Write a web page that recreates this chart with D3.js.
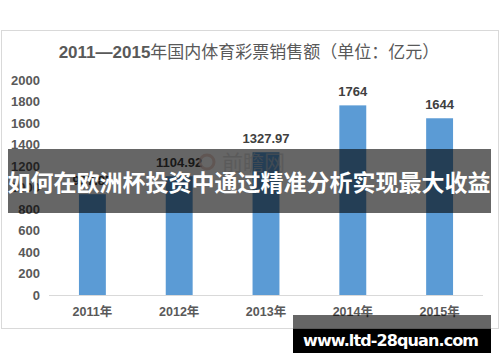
<!DOCTYPE html>
<html>
<head>
<meta charset="utf-8">
<script src="https://d3js.org/d3.v7.min.js"></script>
<style>
  body { margin: 0; background: #fff; }
  svg { display: block; }
</style>
</head>
<body>
<script>
  // 数据
  var years = ["2011年", "2012年", "2013年", "2014年", "2015年"];
  var sales = [937.85, 1104.92, 1327.97, 1764, 1644];
  var valueLabels = ["937.85", "1104.92", "1327.97", "1764", "1644"];
  var yTicks = [0, 200, 400, 600, 800, 1000, 1200, 1400, 1600, 1800, 2000];
  var titleBold = "2011—2015";
  var titleRest = "年国内体育彩票销售额（单位：亿元）";
  var bannerText = "如何在欧洲杯投资中通过精准分析实现最大收益";
  var siteText = "www.ltd-28quan.com";

  var W = 500, H = 362;
  var font = "'Liberation Sans', Arial, 'Noto Sans CJK SC', sans-serif";
  var cjk = "'Noto Sans CJK SC', sans-serif";

  var svg = d3.select("body").append("svg")
      .attr("width", W)
      .attr("height", H);

  // 外框
  svg.append("rect")
    .attr("x", 1.5).attr("y", 30.5)
    .attr("width", 497).attr("height", 298)
    .attr("fill", "#fff")
    .attr("stroke", "#d9d9d9");

  // 标题
  var title = svg.append("text")
    .attr("x", 249).attr("y", 58)
    .attr("text-anchor", "middle")
    .style("font-size", "17px")
    .style("fill", "#595959");
  title.append("tspan").style("font-family", font).style("font-weight", "bold").text(titleBold);
  title.append("tspan").style("font-family", cjk).text(titleRest);

  var x = d3.scaleBand().domain(years).range([49, 483]).paddingInner(0.69).paddingOuter(0.345);
  var y = d3.scaleLinear().domain([0, 2000]).range([295, 80]);

  // Y轴刻度
  svg.selectAll(".ytick")
    .data(yTicks)
    .enter()
    .append("text")
      .attr("class", "ytick")
      .attr("x", 40)
      .attr("y", function(d) { return y(d); })
      .attr("dy", "0.35em")
      .attr("text-anchor", "end")
      .style("font-family", font)
      .style("font-weight", "bold")
      .style("font-size", "13px")
      .style("fill", "#595959")
      .text(function(d) { return d; });

  // 柱子
  svg.selectAll(".bar")
    .data(sales)
    .enter()
    .append("rect")
      .attr("class", "bar")
      .attr("x", function(d, i) { return x(years[i]); })
      .attr("width", x.bandwidth())
      .attr("y", function(d) { return y(d); })
      .attr("height", function(d) { return y(0) - y(d); })
      .attr("fill", "#5b9bd5");

  // X轴线
  svg.append("line")
    .attr("x1", 49).attr("x2", 483)
    .attr("y1", 295.5).attr("y2", 295.5)
    .attr("stroke", "#d9d9d9");

  // X轴标签
  svg.selectAll(".xtick")
    .data(years)
    .enter()
    .append("text")
      .attr("x", function(d) { return x(d) + x.bandwidth() / 2; })
      .attr("y", 316)
      .attr("text-anchor", "middle")
      .style("font-family", font)
      .style("font-weight", "bold")
      .style("font-size", "12.5px")
      .style("fill", "#595959")
      .text(function(d) { return d; });

  // 数值标签
  svg.selectAll(".vlabel")
    .data(sales)
    .enter()
    .append("text")
      .attr("x", function(d, i) { return x(years[i]) + x.bandwidth() / 2; })
      .attr("y", function(d) { return y(d) - 9; })
      .attr("text-anchor", "middle")
      .style("font-family", font)
      .style("font-weight", "bold")
      .style("font-size", "13px")
      .style("fill", "#404040")
      .text(function(d, i) { return valueLabels[i]; });

  // 水印
  svg.append("circle")
    .attr("cx", 207).attr("cy", 162).attr("r", 7)
    .attr("fill", "none").attr("stroke", "#e8c4bc").attr("stroke-width", 3)
    .style("opacity", 0.7);
  svg.append("text")
    .attr("x", 222).attr("y", 170)
    .style("font-family", cjk)
    .style("font-size", "21px")
    .style("fill", "#d0d0d0")
    .style("opacity", 0.6)
    .text("前瞻网");

  // 横幅
  svg.append("rect")
    .attr("x", 8).attr("y", 149)
    .attr("width", 483).attr("height", 64)
    .attr("fill", "rgba(0,0,0,0.6)");
  svg.append("text")
    .attr("x", 249).attr("y", 191)
    .attr("text-anchor", "middle")
    .style("font-family", cjk)
    .style("font-weight", "bold")
    .style("font-size", "23px")
    .style("fill", "#fff")
    .text(bannerText);

  // 底部网址
  svg.append("rect")
    .attr("x", 293).attr("y", 315)
    .attr("width", 198).attr("height", 38)
    .attr("fill", "rgba(0,0,0,0.6)");
  svg.append("rect")
    .attr("x", 293).attr("y", 329)
    .attr("width", 198).attr("height", 24)
    .attr("fill", "#000");
  svg.append("text")
    .attr("x", 391).attr("y", 346)
    .attr("text-anchor", "middle")
    .attr("textLength", 176)
    .style("font-family", "'DejaVu Sans', sans-serif")
    .style("font-weight", "bold")
    .style("font-size", "16px")
    .style("fill", "#fff")
    .text(siteText);
</script>
</body>
</html>
